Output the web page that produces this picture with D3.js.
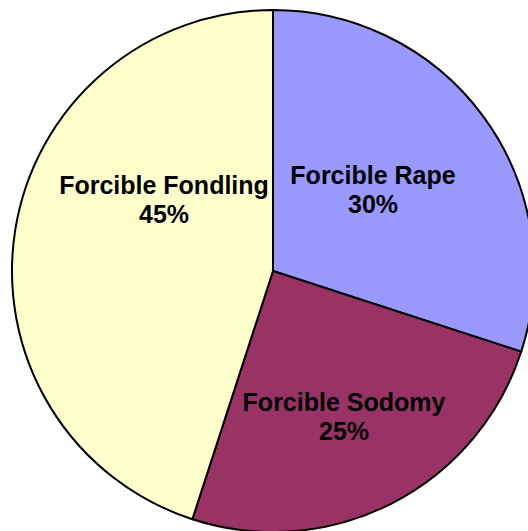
<!DOCTYPE html>
<html>
<head>
<meta charset="utf-8">
<script src="https://cdn.jsdelivr.net/npm/d3@7/dist/d3.min.js"></script>
<style>
  html, body { margin: 0; padding: 0; background: #fff; }
  svg { display: block; }
  text { font-family: "Liberation Sans", Arial, sans-serif; font-weight: bold; fill: #000; }
</style>
</head>
<body>
<svg id="chart" width="528" height="531"></svg>
<script>
// Offense categories and their share of cases (percent)
const categories = ["Forcible Rape", "Forcible Sodomy", "Forcible Fondling"];
const shares = [30, 25, 45];
const labels = ["30%", "25%", "45%"];

// Slice fills
const colors = ["#9999FF", "#993366", "#FFFFCC"];

const width = 528, height = 531;
const cx = 273, cy = 271, radius = 261;

// Label anchor offsets from the pie centre (first-line baseline)
const labelOffsets = [[100, -87], [71, 140], [-109, -77]];

const svg = d3.select("#chart");
const g = svg.append("g").attr("transform", `translate(${cx},${cy})`);

const pie = d3.pie().sort(null).value(d => d)(shares);
const arc = d3.arc().innerRadius(0).outerRadius(radius);

g.selectAll("path.slice")
  .data(pie)
  .join("path")
  .attr("class", "slice")
  .attr("d", arc)
  .attr("fill", (d, i) => colors[i])
  .attr("stroke", "#000")
  .attr("stroke-width", 2)
  .attr("stroke-linejoin", "round");

const lbl = g.selectAll("text.lbl")
  .data(pie)
  .join("text")
  .attr("class", "lbl")
  .attr("text-anchor", "middle")
  .attr("font-size", 25)
  .attr("transform", (d, i) => `translate(${labelOffsets[i][0]},${labelOffsets[i][1]})`);

lbl.append("tspan").attr("x", 0).attr("y", 0).text((d, i) => categories[i]);
lbl.append("tspan").attr("x", 0).attr("y", 28.5).text((d, i) => labels[i]);
</script>
</body>
</html>
